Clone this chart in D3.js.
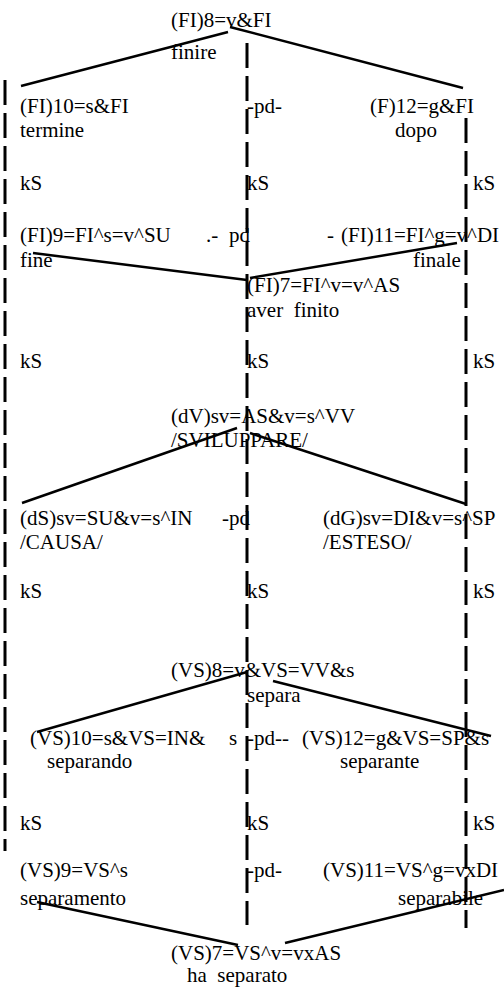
<!DOCTYPE html>
<html>
<head>
<meta charset="utf-8">
<title>FI / VS derivation diagram</title>
<script src="https://d3js.org/d3.v7.min.js"></script>
<style>
body { margin: 0; background: #fff; }
text { font-family: "Liberation Serif", "Times New Roman", serif; font-size: 21px; fill: #000; }
</style>
</head>
<body>
<svg id="chart"></svg>
<script>
// labels: text, x (diagram units), baseline y (diagram units)
var labelText = [
  "(FI)8=v&FI", "finire",
  "(FI)10=s&FI", "termine", "-pd-", "(F)12=g&FI", "dopo",
  "kS", "kS", "kS",
  "(FI)9=FI^s=v^SU", ".-", "pd", "-", "(FI)11=FI^g=v^DI", "fine", "finale",
  "(FI)7=FI^v=v^AS", "aver\u00a0 finito",
  "kS", "kS", "kS",
  "(dV)sv=AS&v=s^VV", "/SVILUPPARE/",
  "(dS)sv=SU&v=s^IN", "-pd", "(dG)sv=DI&v=s^SP", "/CAUSA/", "/ESTESO/",
  "kS", "kS", "kS",
  "(VS)8=v&VS=VV&s", "separa",
  "(VS)10=s&VS=IN&", "s", "-pd--", "(VS)12=g&VS=SP&s", "separando", "separante",
  "kS", "kS", "kS",
  "(VS)9=VS^s", "-pd-", "(VS)11=VS^g=vxDI", "separamento", "separabile",
  "(VS)7=VS^v=vxAS", "ha\u00a0 separato"
];
var labelX = [
  171, 171,
  20, 20, 247, 370, 395,
  20, 247, 473,
  20, 206, 229, 327, 341, 20, 413,
  247, 247,
  20, 247, 473,
  171, 171,
  20, 222, 323, 20, 323,
  20, 247, 473,
  171, 247,
  30, 229, 247, 302, 47, 340,
  20, 247, 473,
  20, 247, 323, 20, 398,
  171, 187
];
var labelY = [
  27, 59,
  113, 137, 113, 113, 137,
  190, 190, 190,
  242, 242, 242, 242, 242, 267, 267,
  292, 317,
  368, 368, 368,
  423, 447,
  525, 525, 525, 549, 549,
  598, 598, 598,
  677, 702,
  745, 745, 745, 745, 768, 768,
  830, 830, 830,
  877, 877, 877, 905, 905,
  960, 982
];

// derivation links: start and end points
var linkX1 = [21, 230, 33, 250, 22, 250, 37, 273, 37, 285];
var linkY1 = [86, 27, 253, 278, 503, 433, 732, 681, 902, 943];
var linkX2 = [228, 463, 247, 457, 237, 466, 247, 491, 238, 504];
var linkY2 = [32, 88, 280, 243, 428, 504, 672, 736, 945, 890];

// dashed column guides
var guideX = [5, 247, 466];
var guideTop = [80, 43, 118];
var guideBottom = [851, 925, 928];

var width = 504, height = 987;
var x = d3.scaleLinear().domain([0, 504]).range([0, width]);
var y = d3.scaleLinear().domain([0, 987]).range([0, height]);

var svg = d3.select("#chart").attr("width", width).attr("height", height);

svg.selectAll("text.lbl")
  .data(d3.range(labelText.length))
  .enter().append("text")
  .attr("class", "lbl")
  .attr("x", function (i) { return x(labelX[i]); })
  .attr("y", function (i) { return y(labelY[i]); })
  .text(function (i) { return labelText[i]; });

svg.selectAll("line.guide")
  .data(d3.range(guideX.length))
  .enter().append("line")
  .attr("class", "guide")
  .attr("x1", function (i) { return x(guideX[i]); })
  .attr("x2", function (i) { return x(guideX[i]); })
  .attr("y1", function (i) { return y(guideTop[i]); })
  .attr("y2", function (i) { return y(guideBottom[i]); })
  .attr("stroke", "#000")
  .attr("stroke-width", 3)
  .attr("stroke-dasharray", "25,8");

svg.selectAll("line.link")
  .data(d3.range(linkX1.length))
  .enter().append("line")
  .attr("class", "link")
  .attr("x1", function (i) { return x(linkX1[i]); })
  .attr("y1", function (i) { return y(linkY1[i]); })
  .attr("x2", function (i) { return x(linkX2[i]); })
  .attr("y2", function (i) { return y(linkY2[i]); })
  .attr("stroke", "#000")
  .attr("stroke-width", 2.5);
</script>
</body>
</html>
